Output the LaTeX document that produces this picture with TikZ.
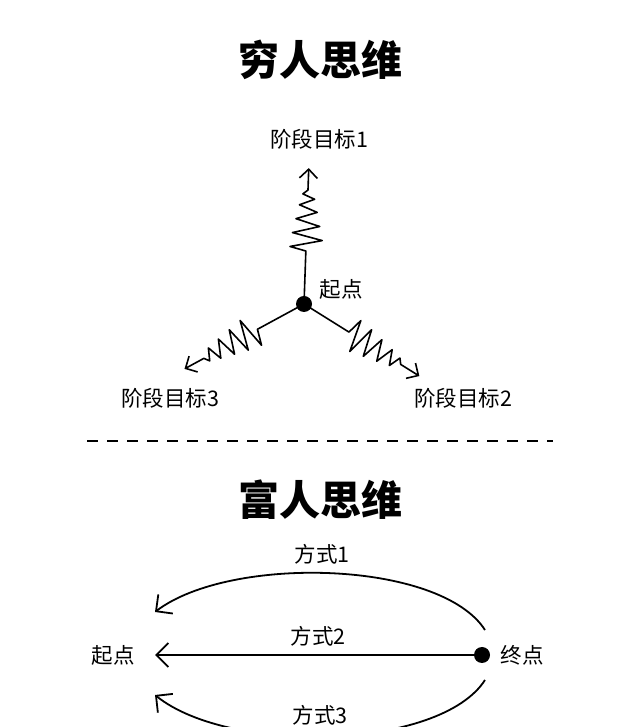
\documentclass[tikz,border=0pt]{standalone}
\usepackage{fontspec}
\newfontfamily\cjk{Noto Sans CJK SC}
\usetikzlibrary{arrows.meta}
\begin{document}
\begin{tikzpicture}[x=1pt,y=1pt,
  lbl/.style={font=\cjk\fontsize{21.5}{25}\selectfont, inner sep=0pt},
  ttl/.style={font=\cjk\bfseries\fontsize{41}{46}\selectfont, inner sep=0pt},
  dot/.style={circle, fill=black, inner sep=0pt, minimum size=16pt},
  ln/.style={line width=1.8pt, line join=round},
  barb/.style={-{Straight Barb[length=12pt,width=24pt,line width=1.8pt]}},
  sbarb/.style={-{Straight Barb[length=9pt,width=18pt,line width=1.6pt]}}
]
\useasboundingbox (0,0) rectangle (640,727);
\clip (0,0) rectangle (640,727);

% top part
\node[ttl] (t1) at (320,667) {穷人思维};
\node[dot] (o) at (304,423) {};
\node[lbl] (s) at (341,438) {起点};
\node[lbl] (g1) at (319,588) {阶段目标1};
\node[lbl] (g3) at (170,329) {阶段目标3};
\node[lbl] (g2) at (463,329) {阶段目标2};

\foreach \ang in {88,208.5,-32}{
  \begin{scope}[shift={(o.center)}, rotate=\ang]
    \draw[ln, line width=1.6pt, sbarb] (0,0) -- (53,0) -- (57,16) -- (64,-16) -- (71,14) -- (78,-13) -- (85,11) -- (92,-10) -- (99,8) -- (105,-7) -- (110,5) -- (114,0) -- (136,0);
  \end{scope}
}

% separator
\draw[line width=2.2pt, dash pattern=on 11pt off 9pt] (87,286) -- (553,286);

% bottom part
\node[ttl] (t2) at (320,227) {富人思维};
\node[dot] (e) at (482,72) {};
\node[lbl] (st) at (113,72) {起点};
\node[lbl] (en) at (522,72) {终点};
\coordinate (tip2) at (155,72);
\coordinate (tip1) at (155,115);
\coordinate (tip3) at (155,32);
\coordinate (a1) at (485,97);
\coordinate (a3) at (485,47);
\node[lbl] (w1) at (322,173) {方式1};
\node[lbl] (w2) at (318,91) {方式2};
\node[lbl] (w3) at (320,12) {方式3};

\draw[ln, barb] (e) -- (tip2);
\draw[ln, barb] (a1) .. controls (440,167) and (230,172) .. (tip1);
\draw[ln, barb] (a3) .. controls (440,-23) and (230,-28) .. (tip3);
\end{tikzpicture}
\end{document}
